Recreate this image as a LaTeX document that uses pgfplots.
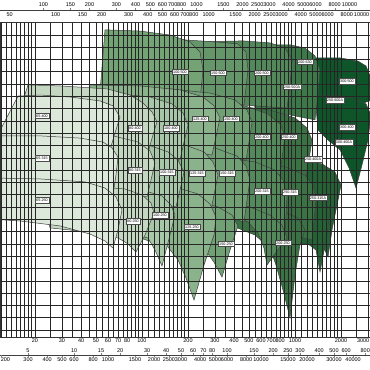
\documentclass[border=0pt]{standalone}
\usepackage{fontspec}
\setmainfont{Liberation Sans}
\usepackage{pgfplots}
\pgfplotsset{compat=1.18}
\definecolor{cA}{RGB}{220,232,218}
\definecolor{cB}{RGB}{196,216,193}
\definecolor{cC}{RGB}{168,199,168}
\definecolor{cD}{RGB}{138,179,140}
\definecolor{cE}{RGB}{112,160,116}
\definecolor{cT1}{RGB}{116,163,118}
\definecolor{cT2}{RGB}{100,150,105}
\definecolor{cT3}{RGB}{82,136,90}
\definecolor{cT4}{RGB}{60,120,72}
\definecolor{cF}{RGB}{84,137,91}
\definecolor{cG}{RGB}{58,114,68}
\definecolor{cX}{RGB}{36,98,53}
\definecolor{cH}{RGB}{14,86,42}
\pgfplotsset{tile/.style={draw=black!75, line width=0.5pt, fill=#1}}
\tikzset{lbl/.style={fill=white, draw=black!70, line width=0.3pt, inner xsep=0.9pt, inner ysep=1.4pt, font=\fontsize{3.7}{4}\selectfont}}
\begin{document}
\begin{tikzpicture}
\path[use as bounding box] (0,0) rectangle (370pt,370pt);
\begin{axis}[at={(0pt,33pt)}, anchor=south west, width=370pt, height=314.3pt, scale only axis,
 xmode=log, xmin=11.81, xmax=3094, ymin=2.15, ymax=129.9,
 axis on top, axis line style={black!80, line width=0.45pt},
 xtick={20,30,40,50,60,70,80,100,200,300,400,500,600,700,800,1000,2000},
 xticklabels={20,30,40,50,60,70,80,100,200,300,400,500,600,700,800,1000,2000},
 extra x ticks={3000}, extra x tick labels={3000},
 extra x tick style={xticklabel style={anchor=north east, xshift=2.5pt}},
 minor xtick={12,13,14,15,16,17,18,19,25,35,45,55,65,75,85,90,95,110,120,130,140,150,160,170,180,190,250,350,450,550,650,750,850,900,950,1100,1200,1300,1400,1500,1600,1700,1800,1900,2500},
 ytick={5,10,...,125}, yticklabels={},
 xmajorgrids, xminorgrids, ymajorgrids,
 grid style={black!85, line width=0.45pt}, minor grid style={black!85, line width=0.45pt},
 major tick length=0pt, minor tick length=0pt,
 xticklabel style={font=\fontsize{5.5}{6}\selectfont, inner sep=1pt},
]
% darkest column
\addplot[tile=cH] coordinates {(1373,115.6)(1970,115.6)(2583,114.3)(2914,112.3)(3141,107.4)(3189,98.5)(2290,95.2)(1695,94.4)(1352,95.2)} -- cycle;
\addplot[tile=cH] coordinates {(1352,100.5)(1827,100.5)(2360,99.3)(2914,96.9)(3141,92.4)(3003,82.2)(2743,72.1)(2507,62.7)(2256,70.9)(1970,78.2)(1645,82.2)(1414,86.3)} -- cycle;
% top band
\addplot[tile=cT4] coordinates {(508.4,120.9)(928.3,120.9)(1163,119.6)(1352,116.4)(1458,110.7)(1414,100.5)(1352,90.4)(928.3,92.4)(548.2,94.4)} -- cycle;
\addplot[tile=cT3] coordinates {(222.2,122.1)(457.6,122.5)(687,121.7)(861,119.6)(956.7,114.8)(928.3,104.6)(887.3,95.2)(437.4,96.5)(239.6,97.3)} -- cycle;
\addplot[tile=cT2] coordinates {(112.9,124.5)(191.2,122.9)(300.2,122.1)(424.4,121.3)(478.8,118.0)(493.3,110.7)(464.5,96.5)(239.6,96.5)(112.9,98.5)} -- cycle;
\addplot[tile=cT1] coordinates {(57.35,127.0)(97.11,126.5)(152.5,124.9)(206.1,122.1)(239.6,118.0)(250.7,110.7)(239.6,98.5)(112.9,98.5)(53.19,101.7)} -- cycle;
% dark tips
\addplot[tile=cX] coordinates {(687,74.1)(1079,74.1)(1503,72.5)(1827,69.2)(2000,63.9)(1883,55.8)(1747,45.7)(1645,34.7)(1458,41.6)(1163,48.9)(861,53.8)(666.6,55.8)} -- cycle;
\addplot[tile=cX] coordinates {(548.2,63.9)(861,63.5)(1217,61.9)(1503,58.7)(1695,53.8)(1620,43.6)(1458,28.6)(1373,37.5)(1217,40.0)(1047,40.0)(798.6,41.6)(573.5,43.6)} -- cycle;
% 250 column
\addplot[tile=cG] coordinates {(191.2,96.5)(405.7,96.1)(687,94.4)(1001,91.2)(1199,87.1)(1292,82.2)(1235,74.1)(1181,66.8)(740.7,69.2)(323.7,72.1)(206.1,73.3)} -- cycle;
\addplot[tile=cG] coordinates {(222.2,74.1)(508.4,73.3)(861,71.3)(1163,68.0)(1312,63.9)(1373,57.8)(1332,49.7)(1292,41.6)(798.6,44.8)(376.3,48.9)(239.6,50.5)} -- cycle;
\addplot[tile=cG] coordinates {(239.6,55.8)(508.4,55.4)(798.6,53.8)(1047,50.5)(1163,45.7)(1079,39.6)(1001,27.4)(928.3,9.9)(835.4,21.3)(752,31.4)(687,38.3)(548.2,43.6)(376.3,47.7)(258.3,48.9)} -- cycle;
% 200 column
\addplot[tile=cF] coordinates {(131.2,98.5)(278.5,98.1)(471.6,96.1)(666.6,92.8)(798.6,88.7)(861,83.5)(823,74.9)(798.6,68.0)(471.6,70.9)(206.1,73.3)(131.2,74.1)} -- cycle;
\addplot[tile=cF] coordinates {(141.5,76.1)(323.7,75.3)(548.2,73.3)(740.7,70.0)(835.4,66.0)(887.3,59.9)(874,51.7)(861,44.8)(508.4,48.9)(239.6,53.0)(152.5,54.6)} -- cycle;
\addplot[tile=cF] coordinates {(152.5,57.8)(323.7,57.0)(508.4,55.0)(687,51.7)(823,47.7)(887.3,42.4)(763.4,37.1)(656.7,31.4)(627.6,38.3)(573.5,44.4)(493.3,48.9)(387.8,52.6)(177.3,53.8)} -- cycle;
% 150 column
\addplot[tile=cE] coordinates {(71.87,103.4)(152.5,103.0)(278.5,101.3)(405.7,98.5)(486,94.4)(524,89.6)(500.8,81.4)(478.8,74.1)(278.5,76.1)(112.9,78.2)(71.87,79.4)} -- cycle;
\addplot[tile=cE] coordinates {(71.87,81.4)(177.3,80.6)(300.2,79.0)(418.1,75.7)(478.8,71.7)(508.4,66.0)(486,57.8)(464.5,48.9)(258.3,53.8)(112.9,57.8)(71.87,59.1)} -- cycle;
\addplot[tile=cE] coordinates {(61.83,59.9)(131.2,59.5)(222.2,57.8)(314.1,55.0)(387.8,51.7)(424.4,47.3)(376.3,37.5)(333.6,26.5)(295.7,32.6)(258.3,37.5)(177.3,41.6)(97.11,43.2)(66.66,44.0)} -- cycle;
% 125 column
\addplot[tile=cD] coordinates {(45.76,104.6)(97.11,104.2)(177.3,102.6)(250.7,99.7)(295.7,96.1)(323.7,91.2)(304.8,83.5)(287,76.1)(177.3,78.2)(71.87,80.2)(42.44,81.0)} -- cycle;
\addplot[tile=cD] coordinates {(39.36,83.0)(112.9,82.2)(191.2,80.2)(254.4,77.4)(291.3,73.3)(314.1,68.0)(295.7,59.9)(278.5,51.7)(164.4,57.0)(71.87,59.5)(39.36,60.7)} -- cycle;
\addplot[tile=cD] coordinates {(49.33,64.8)(97.11,64.8)(164.4,63.1)(232.5,60.3)(278.5,56.2)(304.8,50.9)(295.7,43.6)(254.4,31.4)(218.9,17.2)(194.1,26.1)(172.0,33.5)(148.0,38.7)(97.11,42.4)(53.19,44.4)} -- cycle;
% 100 column
\addplot[tile=cC] coordinates {(29.14,101.7)(61.83,101.3)(112.9,99.7)(157.2,96.9)(185.5,93.2)(200.0,88.3)(188.3,81.4)(177.3,74.1)(97.11,77.0)(45.76,79.0)(25.06,79.8)} -- cycle;
\addplot[tile=cC] coordinates {(25.06,82.2)(61.83,81.8)(109.5,80.2)(148.0,77.4)(172.0,74.1)(188.3,69.2)(177.3,61.9)(166.9,55.0)(97.11,58.3)(45.76,60.3)(25.06,61.1)} -- cycle;
\addplot[tile=cC] coordinates {(33.87,62.7)(61.83,62.7)(104.7,61.5)(135.2,59.5)(154.8,55.8)(164.4,51.7)(152.5,43.6)(135.2,31.0)(121.7,37.5)(109.5,42.4)(71.87,44.8)(39.36,46.5)} -- cycle;
% 80 column
\addplot[tile=cB] coordinates {(18.0,104.6)(29.14,104.2)(59.1,103.0)(83.54,100.5)(101.6,97.3)(116.4,93.6)(125.4,89.6)(116.4,83.0)(109.5,77.0)(71.87,79.0)(29.14,81.0)(13.73,81.8)} -- cycle;
\addplot[tile=cB] coordinates {(15.96,86.3)(39.36,85.9)(64.68,83.9)(94.2,81.4)(112.9,77.8)(121.7,72.9)(114.6,66.0)(107.9,59.1)(61.83,61.1)(29.14,62.7)(15.96,63.5)} -- cycle;
\addplot[tile=cB] coordinates {(21.56,63.9)(45.76,63.5)(77.49,62.3)(100.1,59.9)(114.6,56.6)(119.9,52.6)(104.7,43.6)(91.44,36.7)(81.06,40.0)(69.74,42.4)(45.76,44.8)(25.06,46.5)} -- cycle;
% 65 column
\addplot[tile=cA] coordinates {(15.49,100.1)(21.56,100.5)(33.87,99.7)(53.19,98.1)(64.68,96.1)(71.87,91.6)(66.66,85.1)(61.83,78.2)(39.36,80.2)(21.56,81.8)(10.96,82.2)} -- cycle;
\addplot[tile=cA] coordinates {(10.16,83.9)(21.56,83.9)(39.36,83.0)(55.65,81.4)(63.72,79.0)(69.74,75.3)(67.67,68.0)(64.68,59.9)(39.36,62.7)(21.56,64.8)(10.16,65.6)} -- cycle;
\addplot[tile=cA] coordinates {(10.16,66.8)(21.56,66.4)(42.44,65.2)(57.35,62.7)(67.67,59.1)(74.07,53.8)(69.74,45.7)(64.68,38.3)(57.35,41.2)(45.76,44.0)(29.14,47.3)(15.96,49.3)(10.16,50.1)} -- cycle;
\end{axis}
% labels layer
\begin{axis}[at={(0pt,33pt)}, anchor=south west, width=370pt, height=314.3pt, scale only axis,
 xmode=log, xmin=11.81, xmax=3094, ymin=2.15, ymax=129.9, hide axis]
\node[lbl] at (axis cs:22.22,92.0) {65-400};
\node[lbl] at (axis cs:22.22,74.9) {65-315};
\node[lbl] at (axis cs:22.22,57.8) {65-250};
\node[lbl] at (axis cs:90.07,87.1) {80-400};
\node[lbl] at (axis cs:90.07,70.0) {80-315};
\node[lbl] at (axis cs:87.4,49.3) {80-250};
\node[lbl] at (axis cs:154.8,87.1) {100-400};
\node[lbl] at (axis cs:145.8,69.2) {100-315};
\node[lbl] at (axis cs:131.2,51.7) {100-250};
\node[lbl] at (axis cs:239.6,90.8) {125-400};
\node[lbl] at (axis cs:229,68.8) {125-315};
\node[lbl] at (axis cs:212.4,46.9) {125-250};
\node[lbl] at (axis cs:382,90.8) {150-400};
\node[lbl] at (axis cs:359.7,68.8) {150-315};
\node[lbl] at (axis cs:354.3,40.0) {150-250};
\node[lbl] at (axis cs:609.1,83.5) {200-400};
\node[lbl] at (axis cs:609.1,61.5) {200-315};
\node[lbl] at (axis cs:835.4,40.4) {200-250};
\node[lbl] at (axis cs:914.4,83.5) {250-400};
\node[lbl] at (axis cs:928.3,61.1) {250-315};
\node[lbl] at (axis cs:1312,74.5) {250-400A};
\node[lbl] at (axis cs:1414,58.7) {250-315A};
\node[lbl] at (axis cs:177.3,109.9) {100-500};
\node[lbl] at (axis cs:314.1,109.5) {150-500};
\node[lbl] at (axis cs:609.1,109.5) {200-500};
\node[lbl] at (axis cs:1163,114.0) {200-630};
\node[lbl] at (axis cs:956.7,103.8) {250-500A};
\node[lbl] at (axis cs:2189,106.2) {300-500};
\node[lbl] at (axis cs:1827,98.5) {250-600A};
\node[lbl] at (axis cs:2189,87.5) {300-400};
\node[lbl] at (axis cs:2092,81.4) {300-400A};
\end{axis}
% top scales (US gpm above, Imp gpm below)
\begin{axis}[at={(0pt,360pt)}, anchor=north west, width=370pt, height=5pt, scale only axis,
 xmode=log, xmin=52.0, xmax=13623, ymin=0, ymax=1, hide y axis, axis x line*=top,
 xtick={100,150,200,300,400,500,600,700,800,1000,1500,2000,2500,3000,4000,5000,6000,8000,10000},
 xticklabels={100,150,200,300,400,500,600,700,800,1000,1500,2000,2500,3000,4000,5000,6000,8000,10000},
 xminorticks=false, tick align=outside, major tick length=1.5pt, x axis line style={black!75, line width=0.4pt},
 xticklabel style={font=\fontsize{5.5}{6}\selectfont, inner sep=0.5pt, yshift=1.5pt}]
\end{axis}
\begin{axis}[at={(0pt,360pt)}, anchor=south west, width=370pt, height=5pt, scale only axis,
 xmode=log, xmin=43.3, xmax=11343, ymin=0, ymax=1, hide y axis, axis x line*=bottom,
 xtick={50,100,150,200,300,400,500,600,700,800,1000,1500,2000,2500,3000,4000,5000,6000,8000,10000},
 xticklabels={50,100,150,200,300,400,500,600,700,800,1000,1500,2000,2500,3000,4000,5000,6000,8000,10000},
 xminorticks=false, tick align=outside, major tick length=1.5pt, x axis line style={black!75, line width=0.4pt},
 xticklabel style={font=\fontsize{5.5}{6}\selectfont, inner sep=0.5pt, yshift=-0.5pt}]
\end{axis}
% bottom scales (l/s above, l/min below)
\begin{axis}[at={(0pt,15pt)}, anchor=north west, width=370pt, height=5pt, scale only axis,
 xmode=log, xmin=3.281, xmax=859.4, ymin=0, ymax=1, hide y axis, axis x line*=top,
 xtick={5,10,15,20,30,40,50,60,70,80,100,150,200,250,300,400,500,600,800},
 xticklabels={5,10,15,20,30,40,50,60,70,80,100,150,200,250,300,400,500,600,800},
 xminorticks=false, tick align=outside, major tick length=1.5pt, x axis line style={black!75, line width=0.4pt},
 xticklabel style={font=\fontsize{5.5}{6}\selectfont, inner sep=0.5pt, yshift=0.5pt}]
\end{axis}
\begin{axis}[at={(0pt,15pt)}, anchor=south west, width=370pt, height=5pt, scale only axis,
 xmode=log, xmin=196.8, xmax=51567, ymin=0, ymax=1, hide y axis, axis x line*=bottom,
 xtick={300,400,500,600,800,1000,1500,2000,2500,3000,4000,5000,6000,8000,10000,15000,20000,30000,40000},
 xticklabels={300,400,500,600,800,1000,1500,2000,2500,3000,4000,5000,6000,8000,10000,15000,20000,30000,40000},
 extra x ticks={200}, extra x tick labels={200},
 extra x tick style={xticklabel style={anchor=north west, xshift=-1pt}},
 xminorticks=false, tick align=outside, major tick length=1.5pt, x axis line style={black!75, line width=0.4pt},
 xticklabel style={font=\fontsize{5.5}{6}\selectfont, inner sep=0.5pt, yshift=-0.5pt}]
\end{axis}
\end{tikzpicture}
\end{document}
